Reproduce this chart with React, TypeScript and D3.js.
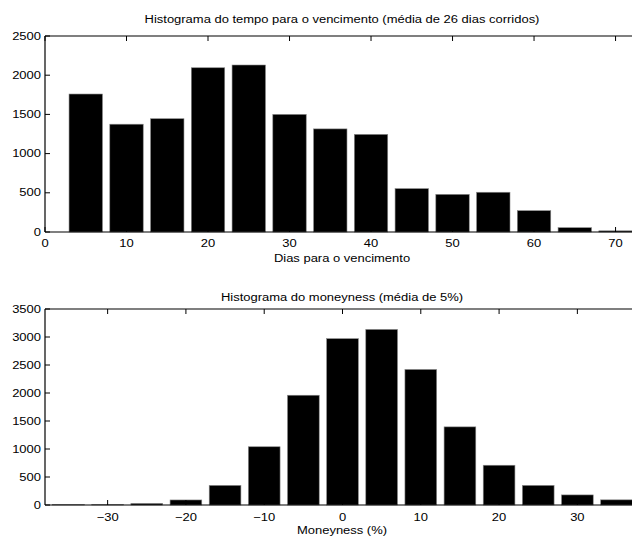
import React from "react";
import * as d3 from "d3";

const daysCenters = [5, 10, 15, 20, 25, 30, 35, 40, 45, 50, 55, 60, 65, 70];
const daysCounts = [1760, 1375, 1445, 2095, 2130, 1500, 1315, 1245, 553, 480, 507, 272, 55, 15];
const daysYTicks = [0, 500, 1000, 1500, 2000, 2500];
const daysXTicks = [0, 10, 20, 30, 40, 50, 60, 70];

const moneyCenters = [-35, -30, -25, -20, -15, -10, -5, 0, 5, 10, 15, 20, 25, 30, 35];
const moneyCounts = [10, 10, 28, 90, 350, 1040, 1960, 2970, 3135, 2420, 1395, 710, 350, 180, 92];
const moneyYTicks = [0, 500, 1000, 1500, 2000, 2500, 3000, 3500];
const moneyXTicks = [-30, -20, -10, 0, 10, 20, 30];

const FONT = "'Liberation Sans', Arial, Helvetica, sans-serif";
const W = 632;
const H = 538;
const SX = 1.18;

function T(props: { x: number; y: number; anchor: string; children: React.ReactNode }) {
  return (
    <text
      transform={`translate(${props.x},${props.y}) scale(${SX},1)`}
      textAnchor={props.anchor}
      dominantBaseline="central"
      fontFamily={FONT}
      fontSize={11}
      fill="#000"
    >
      {props.children}
    </text>
  );
}

type PanelProps = {
  centers: number[];
  counts: number[];
  xDomain: [number, number];
  yMax: number;
  yTicks: number[];
  xTicks: number[];
  top: number;
  bottom: number;
  title: string;
  titleY: number;
  xLabel: string;
  xTickY: number;
  xLabelY: number;
  barWidth: number;
};

function Panel(p: PanelProps) {
  const left = 45;
  const right = 640;
  const x = d3.scaleLinear().domain(p.xDomain).range([left, right]);
  const y = d3.scaleLinear().domain([0, p.yMax]).range([p.bottom, p.top]);
  const fmt = d3.format("d");
  const tl = 5;
  return (
    <g>
      {p.centers.map((c, i) => (
        <rect
          key={i}
          x={x(c - p.barWidth / 2)}
          y={y(p.counts[i])}
          width={x(c + p.barWidth / 2) - x(c - p.barWidth / 2)}
          height={p.bottom - y(p.counts[i])}
          fill="#000"
          stroke="#888"
          strokeWidth={0.6}
        />
      ))}
      <line x1={left} x2={right} y1={p.top} y2={p.top} stroke="#000" strokeWidth={1.2} />
      <line x1={left} x2={right} y1={p.bottom} y2={p.bottom} stroke="#000" strokeWidth={1.2} />
      <line x1={left} x2={left} y1={p.top} y2={p.bottom} stroke="#000" strokeWidth={1.2} />
      {p.yTicks.map((t) => (
        <g key={"y" + t}>
          <line x1={left} x2={left + tl} y1={y(t)} y2={y(t)} stroke="#000" strokeWidth={1} />
          <T x={left - 4} y={y(t)} anchor="end">{fmt(t)}</T>
        </g>
      ))}
      {p.xTicks.map((t) => (
        <g key={"x" + t}>
          <line x1={x(t)} x2={x(t)} y1={p.bottom} y2={p.bottom - tl} stroke="#000" strokeWidth={1} />
          <line x1={x(t)} x2={x(t)} y1={p.top} y2={p.top + tl} stroke="#000" strokeWidth={1} />
          <T x={x(t)} y={p.xTickY} anchor="middle">{fmt(t)}</T>
        </g>
      ))}
      <T x={342} y={p.titleY} anchor="middle">{p.title}</T>
      <T x={342} y={p.xLabelY} anchor="middle">{p.xLabel}</T>
    </g>
  );
}

export default function App() {
  return (
    <svg
      width={W}
      height={H}
      style={{ position: "absolute", left: 0, top: 0, background: "#fff" }}
    >
      <rect x={0} y={0} width={W} height={H} fill="#fff" />
      <Panel
        centers={daysCenters}
        counts={daysCounts}
        xDomain={[0, 73]}
        yMax={2500}
        yTicks={daysYTicks}
        xTicks={daysXTicks}
        top={36}
        bottom={232}
        title="Histograma do tempo para o vencimento (média de 26 dias corridos)"
        titleY={19}
        xLabel="Dias para o vencimento"
        xTickY={243}
        xLabelY={258}
        barWidth={4.1}
      />
      <Panel
        centers={moneyCenters}
        counts={moneyCounts}
        xDomain={[-38, 38]}
        yMax={3500}
        yTicks={moneyYTicks}
        xTicks={moneyXTicks}
        top={309}
        bottom={505}
        title="Histograma do moneyness (média de 5%)"
        titleY={297}
        xLabel="Moneyness (%)"
        xTickY={517}
        xLabelY={530}
        barWidth={4.05}
      />
    </svg>
  );
}
